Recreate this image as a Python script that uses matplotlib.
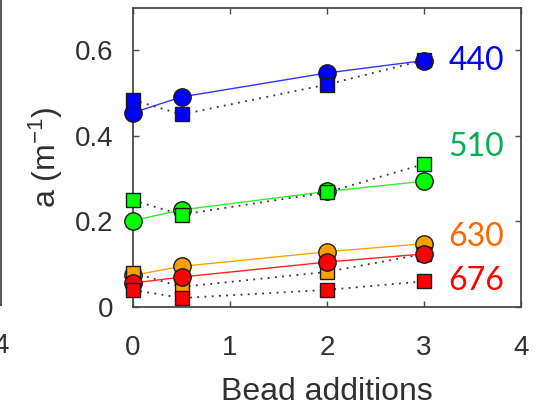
import matplotlib
matplotlib.use("Agg")
import matplotlib.pyplot as plt

plt.rcParams["mathtext.fontset"] = "custom"
plt.rcParams["mathtext.rm"] = "Liberation Sans"
plt.rcParams["mathtext.it"] = "Liberation Sans:italic"
plt.rcParams["mathtext.default"] = "regular"

# Data
x_vals = [0, 0.5, 2, 3]
wavelengths = ["440", "510", "630", "676"]
circles = {
    "440": [0.454, 0.491, 0.547, 0.576],
    "510": [0.202, 0.227, 0.270, 0.294],
    "630": [0.074, 0.095, 0.129, 0.148],
    "676": [0.056, 0.070, 0.105, 0.124],
}
squares = {
    "440": [0.484, 0.450, 0.520, 0.577],
    "510": [0.249, 0.216, 0.268, 0.334],
    "630": [0.080, 0.047, 0.082, 0.124],
    "676": [0.040, 0.021, 0.040, 0.060],
}
marker_colors = {"440": "#0000FF", "510": "#00FF00", "630": "#FFA000", "676": "#FF0000"}
line_colors = {"440": "#3333FF", "510": "#33EE33", "630": "#FFA500", "676": "#FF2020"}
text_colors = {"440": "#0000FF", "510": "#00B050", "630": "#FF6600", "676": "#FF0000"}
label_y = {"440": 0.576, "510": 0.375, "630": 0.163, "676": 0.060}

x_ticks = [0, 1, 2, 3, 4]
y_ticks = [0, 0.2, 0.4, 0.6]
y_tick_labels = ["0", "0.2", "0.4", "0.6"]

W, H = 541, 408
fig = plt.figure(figsize=(W / 100, H / 100), dpi=100)

spine_col = "#4a4a4a"
tick_col = "#303030"
tfont = "Liberation Sans"

# main axes
L, R, T, B = 133, 521, 7.5, 307
ax = fig.add_axes([L / W, (H - B) / H, (R - L) / W, (B - T) / H])
ax.set_xlim(0, 4)
ax.set_ylim(0, 0.7)

for wl in wavelengths:
    ax.plot(x_vals, circles[wl], "-", color=line_colors[wl], lw=1.0, zorder=2)
    ax.plot(x_vals, squares[wl], color="#333333", lw=1.3, linestyle=(0, (1, 3)), zorder=2)
z = 3
for wl in wavelengths:
    ax.plot(x_vals, circles[wl], "o", ms=12.5, mfc=marker_colors[wl], mec="#1a1a1a", mew=1.0,
            ls="none", zorder=z, clip_on=False)
    ax.plot(x_vals, squares[wl], "s", ms=10, mfc=marker_colors[wl], mec="#1a1a1a", mew=1.0,
            ls="none", zorder=z + 1, clip_on=False)
    z += 2

for wl in wavelengths:
    ax.text(3.25, label_y[wl], wl, color=text_colors[wl], fontsize=23, family="Lato",
            ha="left", va="center", zorder=20)

ax.set_xticks(x_ticks)
ax.set_yticks(y_ticks)
ax.set_yticklabels(y_tick_labels)
ax.tick_params(direction="in", length=4, width=1, colors=spine_col, labelcolor=tick_col,
               labelsize=20, top=True, right=True)
ax.tick_params(axis="x", pad=20)
ax.tick_params(axis="y", pad=14)
for lab in ax.get_xticklabels() + ax.get_yticklabels():
    lab.set_family(tfont)
for s in ax.spines.values():
    s.set_color(spine_col)
    s.set_linewidth(1.3)

ax.set_xlabel("Bead additions", fontsize=23, family=tfont, color=tick_col, labelpad=12)
ax.set_ylabel("a (m$^{-1}$)", fontsize=23, family=tfont, color=tick_col, labelpad=7)

# neighbouring partial axes on the left
axl = fig.add_axes([-300 / W, (H - 305) / H, 301.5 / W, 305 / H])
axl.set_xlim(0, 4)
axl.set_ylim(0, 1)
axl.set_xticks([4])
axl.set_xticklabels(["4"])
axl.set_yticks([])
axl.tick_params(direction="in", length=0, labelsize=20, labelcolor=tick_col, pad=20)
for lab in axl.get_xticklabels():
    lab.set_family(tfont)
for side, s in axl.spines.items():
    s.set_color(spine_col)
    s.set_linewidth(1.3)
axl.spines["top"].set_visible(False)
axl.patch.set_alpha(0)

fig.savefig("out.png", dpi=100)
